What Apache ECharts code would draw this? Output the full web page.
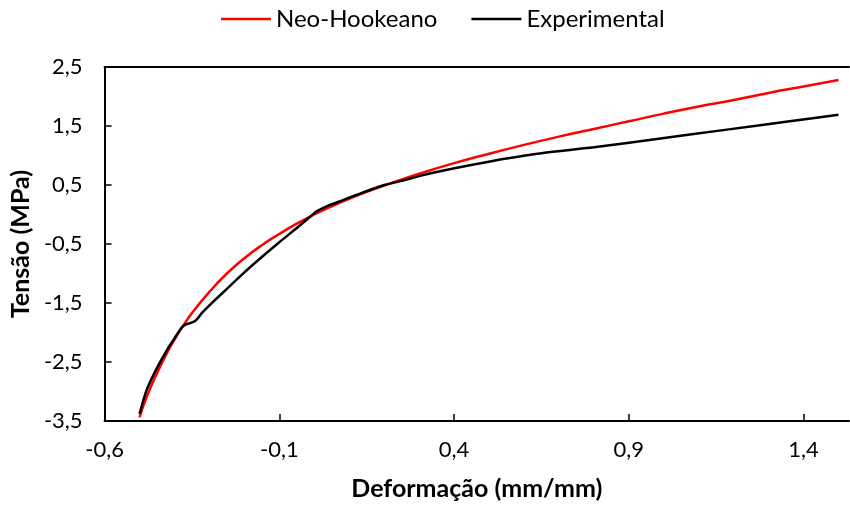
<!DOCTYPE html>
<html>
<head>
<meta charset="utf-8">
<script src="https://cdn.jsdelivr.net/npm/echarts@6/dist/echarts.min.js"></script>
<style>
  html, body { margin: 0; padding: 0; background: #fff; }
  #chart { width: 850px; height: 506px; }
</style>
</head>
<body>
<div id="chart"></div>
<script>
// Neo-Hookeano (modelo)
var neoX = [-0.5, -0.48, -0.45, -0.42, -0.4, -0.38, -0.35, -0.3, -0.25, -0.2, -0.15, -0.1, -0.05, 0, 0.05, 0.1, 0.15, 0.2, 0.3, 0.4, 0.5, 0.6, 0.7, 0.8, 0.9, 1.0, 1.1, 1.2, 1.3, 1.4, 1.5]
var neoY = [-3.44, -3.1, -2.69, -2.33, -2.12, -1.93, -1.67, -1.31, -1.0, -0.74, -0.52, -0.33, -0.155, 0, 0.14, 0.267, 0.385, 0.49, 0.69, 0.87, 1.03, 1.18, 1.32, 1.45, 1.58, 1.71, 1.83, 1.94, 2.06, 2.17, 2.28]

// Experimental
var expX = [-0.5, -0.48, -0.45, -0.42, -0.4, -0.38, -0.37, -0.355, -0.34, -0.32, -0.3, -0.25, -0.2, -0.15, -0.1, -0.05, 0, 0.005, 0.04, 0.08, 0.12, 0.17, 0.2, 0.25, 0.3, 0.35, 0.46, 0.55, 0.65, 0.8, 0.98, 1.17, 1.36, 1.5]
var expY = [-3.38, -2.98, -2.6, -2.28, -2.1, -1.92, -1.87, -1.84, -1.8, -1.66, -1.54, -1.26, -0.98, -0.72, -0.47, -0.23, 0.02, 0.05, 0.15, 0.24, 0.33, 0.44, 0.5, 0.57, 0.65, 0.72, 0.85, 0.95, 1.04, 1.14, 1.28, 1.43, 1.58, 1.69]

var xTicks = [-0.6, -0.1, 0.4, 0.9, 1.4]
var yTicks = [-3.5, -2.5, -1.5, -0.5, 0.5, 1.5, 2.5]

function pairs(xs, ys) {
  return xs.map(function (x, i) { return [x, ys[i]] })
}
function comma(v) {
  return String(v).replace('.', ',')
}

var font = 'Lato'
var chart = echarts.init(document.getElementById('chart'))
chart.setOption({
  animation: false,
  textStyle: { fontFamily: font, color: '#000' },
  legend: {
    top: 2,
    left: 216,
    icon: 'rect',
    itemWidth: 50,
    itemHeight: 2.5,
    itemGap: 34,
    textStyle: { fontFamily: font, fontSize: 24, color: '#000' },
    data: ['Neo-Hookeano', 'Experimental']
  },
  grid: {
    left: 102,
    right: 1,
    top: 67,
    bottom: 83
  },
  xAxis: [{
    type: 'value',
    min: -0.6,
    max: 1.53,
    name: 'Deformação (mm/mm)',
    nameLocation: 'middle',
    nameGap: 55,
    nameTextStyle: { fontFamily: font, fontSize: 25, fontWeight: 'bold', color: '#000' },
    axisLine: { show: true, onZero: false, lineStyle: { color: '#000', width: 2 } },
    axisTick: { show: true, inside: true, length: 7, customValues: xTicks, lineStyle: { color: '#000', width: 1.5 } },
    axisLabel: { margin: 18, fontSize: 22, color: '#000', customValues: xTicks, formatter: comma },
    splitLine: { show: false }
  }, {
    type: 'value',
    position: 'top',
    min: -0.6,
    max: 1.53,
    axisLine: { show: true, onZero: false, lineStyle: { color: '#000', width: 2 } },
    axisTick: { show: false },
    axisLabel: { show: false },
    splitLine: { show: false }
  }],
  yAxis: {
    type: 'value',
    min: -3.5,
    max: 2.5,
    name: 'Tensão (MPa)',
    nameLocation: 'middle',
    nameGap: 66,
    nameTextStyle: { fontFamily: font, fontSize: 25, fontWeight: 'bold', color: '#000' },
    axisLine: { show: true, onZero: false, lineStyle: { color: '#000', width: 2 } },
    axisTick: { show: true, inside: true, length: 7, customValues: yTicks, lineStyle: { color: '#000', width: 1.5 } },
    axisLabel: { margin: 22, fontSize: 22, color: '#000', customValues: yTicks, formatter: comma },
    splitLine: { show: false }
  },
  series: [{
    name: 'Neo-Hookeano',
    type: 'line',
    smooth: true,
    symbol: 'none',
    data: pairs(neoX, neoY),
    itemStyle: { color: '#ff0000' },
    lineStyle: { color: '#ff0000', width: 2.5 }
  }, {
    name: 'Experimental',
    type: 'line',
    smooth: 0.3,
    symbol: 'none',
    data: pairs(expX, expY),
    itemStyle: { color: '#000' },
    lineStyle: { color: '#000', width: 2.5 }
  }]
})
</script>
</body>
</html>
